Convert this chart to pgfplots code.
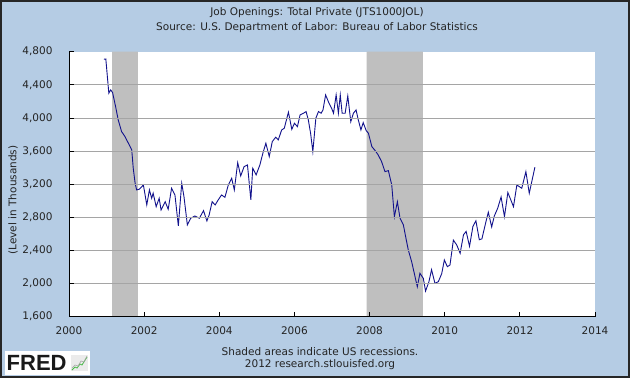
\documentclass[border=0pt]{standalone}
\usepackage{pgfplots}
\pgfplotsset{compat=1.18}
\usepackage{fontspec}
\setmainfont{DejaVu Sans}
\newfontfamily\logofont{Liberation Sans}
\definecolor{bgblue}{RGB}{181,204,228}
\definecolor{recgray}{RGB}{191,191,191}
\definecolor{gridgray}{RGB}{165,165,165}
\definecolor{lineblue}{RGB}{18,18,140}
\definecolor{txt}{RGB}{35,35,35}
\begin{document}
\begin{tikzpicture}[x=1bp,y=1bp]
\useasboundingbox (0,0) rectangle (630,378);
\fill[bgblue] (0,0) rectangle (630,378);
\begin{axis}[
  at={(69bp,61.3bp)}, anchor=south west, scale only axis,
  width=526bp, height=265bp,
  xmin=2000, xmax=2014, ymin=1600, ymax=4800,
  axis on top,
  axis background/.style={fill=white},
  axis x line*=bottom, axis y line*=left,
  axis line style={black, line width=1bp, -},
  xtick={2000,2002,...,2014},
  ytick={2000,2400,...,4400},
  extra y ticks={1600,4800},
  extra y tick style={grid=none},
  ymajorgrids, grid style={gridgray, line width=0.9bp},
  tick align=inside,
  major tick length=5bp,
  tick style={black, line width=0.8bp},
  /pgf/number format/assume math mode=true,
  ticklabel style={font=\fontsize{10.5bp}{12bp}\selectfont, text=txt},
  x tick label style={yshift=-6bp, /pgf/number format/1000 sep={}},
  y tick label style={xshift=-13bp, /pgf/number format/1000 sep={,}},
]
\addplot[fill=recgray, draw=none, forget plot] coordinates {(2001.15,1600) (2001.15,4800) (2001.83,4800) (2001.83,1600)} \closedcycle;
\addplot[fill=recgray, draw=none, forget plot] coordinates {(2007.92,1600) (2007.92,4800) (2009.42,4800) (2009.42,1600)} \closedcycle;
\addplot[lineblue, line width=0.9bp, mark=none] coordinates {
(2000.93,4709) (2000.98,4712) (2001.06,4299) (2001.11,4339) (2001.16,4306)
(2001.24,4137) (2001.31,3976) (2001.40,3835) (2001.49,3775) (2001.58,3695)
(2001.67,3614) (2001.71,3393) (2001.76,3211) (2001.80,3131) (2001.87,3139)
(2001.98,3191) (2002.07,2950) (2002.14,3131) (2002.20,3030) (2002.24,3091)
(2002.32,2929) (2002.40,3030) (2002.45,2889) (2002.56,2989) (2002.64,2897)
(2002.73,3151) (2002.82,3070) (2002.91,2696) (2003.00,3211) (2003.06,3050)
(2003.15,2708) (2003.24,2789) (2003.35,2816) (2003.47,2789) (2003.58,2881)
(2003.67,2756) (2003.73,2829) (2003.81,2989) (2003.89,2949) (2003.97,3010)
(2004.06,3070) (2004.15,3042) (2004.24,3191) (2004.33,3272) (2004.40,3131)
(2004.49,3460) (2004.57,3300) (2004.66,3412) (2004.75,3433) (2004.84,3010)
(2004.89,3393) (2004.98,3312) (2005.08,3433) (2005.16,3574) (2005.24,3695)
(2005.33,3533) (2005.41,3714) (2005.50,3767) (2005.57,3735) (2005.66,3855)
(2005.73,3876) (2005.84,4069) (2005.93,3863) (2006.00,3936) (2006.08,3895)
(2006.15,4037) (2006.24,4057) (2006.31,4077) (2006.37,3976) (2006.43,3815)
(2006.49,3593) (2006.57,3997) (2006.64,4077) (2006.71,4057) (2006.76,4097)
(2006.83,4278) (2006.92,4178) (2006.99,4117) (2007.04,4057) (2007.11,4278)
(2007.17,4057) (2007.22,4278) (2007.27,4057) (2007.35,4057) (2007.42,4266)
(2007.50,3955) (2007.57,4057) (2007.64,4097) (2007.70,3976) (2007.77,3855)
(2007.83,3944) (2007.91,3847) (2007.97,3815) (2008.06,3654) (2008.15,3605)
(2008.23,3553) (2008.32,3472) (2008.41,3352) (2008.50,3364) (2008.59,3191)
(2008.66,2808) (2008.74,2989) (2008.81,2789) (2008.90,2708) (2008.96,2566)
(2009.03,2406) (2009.12,2264) (2009.21,2083) (2009.27,1962) (2009.34,2124)
(2009.43,2064) (2009.49,1910) (2009.58,2023) (2009.65,2168) (2009.74,2003)
(2009.83,2023) (2009.92,2120) (2009.99,2285) (2010.07,2204) (2010.14,2224)
(2010.23,2525) (2010.32,2466) (2010.41,2366) (2010.50,2590) (2010.57,2630)
(2010.66,2450) (2010.75,2690) (2010.83,2758) (2010.92,2530) (2010.99,2540)
(2011.07,2696) (2011.16,2862) (2011.25,2684) (2011.32,2816) (2011.41,2910)
(2011.50,3046) (2011.59,2808) (2011.68,3100) (2011.83,2929) (2011.92,3191)
(2012.05,3151) (2012.16,3352) (2012.25,3091) (2012.40,3405)
};
\end{axis}
\node[rotate=90, font=\fontsize{10.5bp}{12bp}\selectfont, text=txt] at (13,178) {(Level in Thousands)};
\node[font=\fontsize{10.5bp}{12bp}\selectfont, text=txt] at (317,365) {Job Openings: Total Private (JTS1000JOL)};
\node[font=\fontsize{10.5bp}{12bp}\selectfont, text=txt] at (317,350) {Source: U.S. Department of Labor: Bureau of Labor Statistics};
\node[font=\fontsize{10.5bp}{12bp}\selectfont, text=txt] at (320,26.7) {Shaded areas indicate US recessions.};
\node[font=\fontsize{10.5bp}{12bp}\selectfont, text=txt] at (320,13.3) {2012 research.stlouisfed.org};
\fill[white] (5,3.3) rectangle (90,27);
\node[anchor=west, inner sep=0, font=\logofont\bfseries\fontsize{22bp}{22bp}\selectfont, text=black!90] at (6.5,15) {FRED};
\fill[black!8] (71,6.7) rectangle (88,23.3);
\draw[green!45!gray, line width=0.8bp] (72,8) -- (75,11) -- (77,10) -- (80,14) -- (82,13) -- (87,21);
\draw[gray!70, line width=0.6bp] (72,10) -- (75,13) -- (78,12) -- (81,17) -- (84,16) -- (87,22);
\draw[black!85, line width=2bp] (1,1) rectangle (629,377);
\end{tikzpicture}
\end{document}
